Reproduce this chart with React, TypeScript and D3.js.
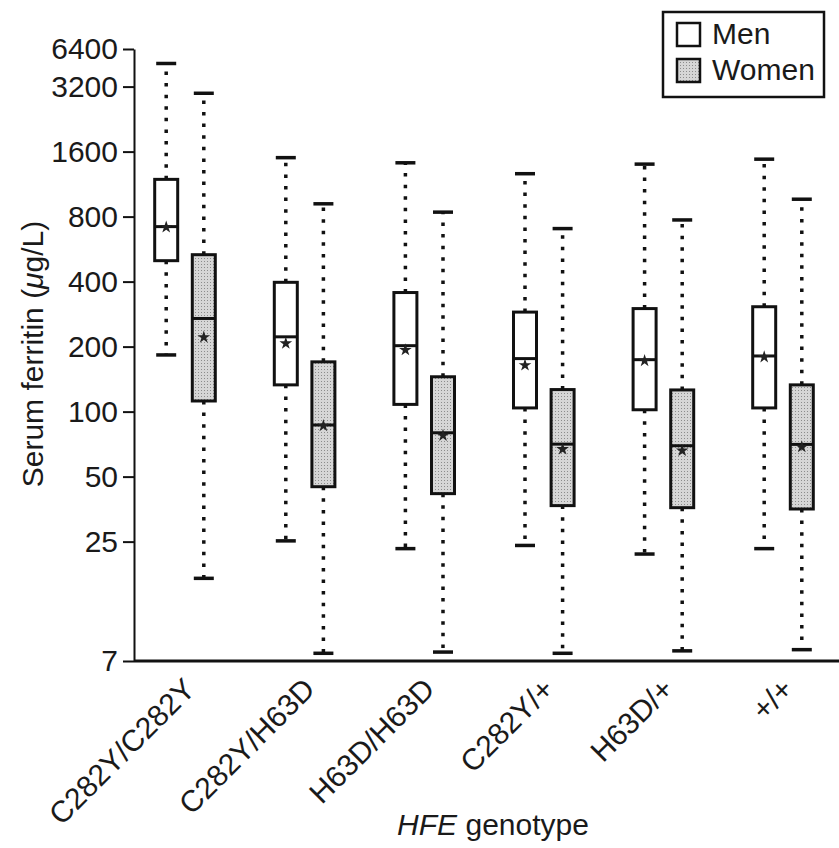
import React, { useEffect, useRef } from "react";
import * as d3 from "d3";

const genotypes = ["C282Y/C282Y", "C282Y/H63D", "H63D/H63D", "C282Y/+", "H63D/+", "+/+"];
const sexes = ["Men", "Women"];

// serum ferritin (ug/L)
const menLow = [183, 25.2, 23.2, 24, 21.9, 23.2];
const menQ1 = [500, 133, 108, 104, 102, 104];
const menMedian = [719, 222, 202, 176, 174, 181];
const menQ3 = [1190, 397, 356, 289, 300, 306];
const menHigh = [4900, 1500, 1420, 1264, 1400, 1476];
const menMean = [715, 207, 193, 164, 172, 179];

const womenLow = [16.9, 7.6, 7.7, 7.6, 7.8, 7.9];
const womenQ1 = [112, 44.9, 41.7, 36.7, 35.9, 35.4];
const womenMedian = [270, 86.7, 79.8, 70.7, 69.5, 70.5];
const womenQ3 = [533, 170, 145, 126.5, 126, 133];
const womenHigh = [2980, 917, 839, 704, 772, 963];
const womenMean = [221, 86, 77.5, 67, 66, 68.6];

const yTicks = [7, 25, 50, 100, 200, 400, 800, 1600, 3200, 6400];

function App() {
  const ref = useRef<SVGSVGElement>(null);

  useEffect(() => {
    const width = 839;
    const height = 848;
    const font = "'Liberation Sans', Arial, Helvetica, sans-serif";
    const fontSize = "30px";
    const ink = "#1a1a1a";
    const axisX = 134;

    const svg = d3.select(ref.current);
    svg.selectAll("*").remove();
    svg.attr("width", width).attr("height", height);

    // halftone grey like the printed figure
    const pattern = svg
      .append("defs")
      .append("pattern")
      .attr("id", "stipple")
      .attr("width", 3)
      .attr("height", 3)
      .attr("patternUnits", "userSpaceOnUse");
    pattern.append("rect").attr("width", 3).attr("height", 3).attr("fill", "#d6d6d6");
    pattern.append("rect").attr("width", 1).attr("height", 1).attr("fill", "#8c8c8c");
    const womenFill = "url(#stipple)";

    // top of the axis is compressed in the original figure
    const y = d3.scaleLog().domain([7, 3200, 6400]).range([661, 86.6, 49]);
    const x = d3.scaleBand().domain(genotypes).range([125.2, 842.8]);
    const sx = d3.scalePoint().domain(sexes).range([-18.8, 18.8]);

    const boxes: any[] = [];
    genotypes.forEach((g, i) => {
      boxes.push({ g, sex: "Men", low: menLow[i], q1: menQ1[i], med: menMedian[i], q3: menQ3[i], high: menHigh[i], mean: menMean[i] });
      boxes.push({ g, sex: "Women", low: womenLow[i], q1: womenQ1[i], med: womenMedian[i], q3: womenQ3[i], high: womenHigh[i], mean: womenMean[i] });
    });
    const cx = (d: any) => (x(d.g) as number) + x.bandwidth() / 2 + (sx(d.sex) as number);
    const boxW = 23;
    const capW = 20;

    // y axis
    const yAxis = svg
      .append("g")
      .attr("transform", `translate(${axisX},0)`)
      .call(
        d3
          .axisLeft(y)
          .tickValues(yTicks)
          .tickFormat(d3.format("d"))
          .tickSize(11)
          .tickSizeOuter(0)
          .tickPadding(5)
      );
    yAxis.select(".domain").attr("stroke", "#111").attr("stroke-width", 2);
    yAxis.selectAll(".tick line").attr("stroke", "#111").attr("stroke-width", 2);
    yAxis
      .selectAll(".tick text")
      .attr("fill", ink)
      .style("font-family", font)
      .style("font-size", fontSize);

    // x axis
    const xAxis = svg
      .append("g")
      .attr("transform", `translate(0,${y(7)})`)
      .call(d3.axisBottom(x).tickSize(0));
    xAxis.select(".domain").remove();
    xAxis
      .append("line")
      .attr("x1", axisX)
      .attr("x2", width)
      .attr("stroke", "#111")
      .attr("stroke-width", 3);
    xAxis
      .selectAll(".tick text")
      .attr("y", 0)
      .attr("dy", 0)
      .attr("transform", "translate(12,30) rotate(-45)")
      .style("text-anchor", "end")
      .attr("fill", ink)
      .style("font-family", font)
      .style("font-size", fontSize);

    const g = svg.selectAll(".box").data(boxes).enter().append("g").attr("class", "box");

    // dotted whiskers
    g.append("line")
      .attr("x1", cx)
      .attr("x2", cx)
      .attr("y1", (d) => y(d.q3))
      .attr("y2", (d) => y(d.high))
      .attr("stroke", "#111")
      .attr("stroke-width", 3.5)
      .attr("stroke-dasharray", "3.5,8.1");
    g.append("line")
      .attr("x1", cx)
      .attr("x2", cx)
      .attr("y1", (d) => y(d.q1))
      .attr("y2", (d) => y(d.low))
      .attr("stroke", "#111")
      .attr("stroke-width", 3.5)
      .attr("stroke-dasharray", "3.5,8.1");

    // caps
    ["high", "low"].forEach((k) => {
      g.append("line")
        .attr("x1", (d) => cx(d) - capW / 2)
        .attr("x2", (d) => cx(d) + capW / 2)
        .attr("y1", (d) => y(d[k]))
        .attr("y2", (d) => y(d[k]))
        .attr("stroke", "#111")
        .attr("stroke-width", 3.5);
    });

    // boxes
    g.append("rect")
      .attr("x", (d) => cx(d) - boxW / 2)
      .attr("width", boxW)
      .attr("y", (d) => y(d.q3))
      .attr("height", (d) => y(d.q1) - y(d.q3))
      .attr("fill", (d) => (d.sex === "Men" ? "#fff" : womenFill))
      .attr("stroke", "#111")
      .attr("stroke-width", 3);

    g.append("line")
      .attr("x1", (d) => cx(d) - boxW / 2)
      .attr("x2", (d) => cx(d) + boxW / 2)
      .attr("y1", (d) => y(d.med))
      .attr("y2", (d) => y(d.med))
      .attr("stroke", "#111")
      .attr("stroke-width", 3);

    // means
    g.append("path")
      .attr("d", d3.symbol().type(d3.symbolStar).size(50) as any)
      .attr("transform", (d) => `translate(${cx(d)},${y(d.mean)})`)
      .attr("fill", "#222");

    // axis titles
    const yTitle = svg
      .append("text")
      .attr("transform", "translate(43,354) rotate(-90)")
      .attr("text-anchor", "middle")
      .attr("fill", ink)
      .style("font-family", font)
      .style("font-size", fontSize);
    yTitle.append("tspan").text("Serum ferritin (");
    yTitle.append("tspan").attr("font-style", "italic").text("μ");
    yTitle.append("tspan").text("g/L)");

    const xTitle = svg
      .append("text")
      .attr("x", 493)
      .attr("y", 835)
      .attr("text-anchor", "middle")
      .attr("fill", ink)
      .style("font-family", font)
      .style("font-size", fontSize);
    xTitle.append("tspan").attr("font-style", "italic").text("HFE");
    xTitle.append("tspan").text(" genotype");

    // legend
    const legend = svg.append("g");
    legend
      .append("rect")
      .attr("x", 663)
      .attr("y", 12)
      .attr("width", 161)
      .attr("height", 85)
      .attr("fill", "#fff")
      .attr("stroke", "#111")
      .attr("stroke-width", 2.5);
    const item = legend
      .selectAll(".item")
      .data(sexes)
      .enter()
      .append("g")
      .attr("transform", (_, i) => `translate(677,${23 + i * 36})`);
    item
      .append("rect")
      .attr("width", 23)
      .attr("height", 23)
      .attr("fill", (d) => (d === "Men" ? "#fff" : womenFill))
      .attr("stroke", "#111")
      .attr("stroke-width", 2.5);
    item
      .append("text")
      .attr("x", 35)
      .attr("y", 21)
      .attr("fill", ink)
      .style("font-family", font)
      .style("font-size", fontSize)
      .text((d) => d);
  }, []);

  return <svg ref={ref} style={{ position: "absolute", left: 0, top: 0, background: "#fff" }}></svg>;
}

export default App;
